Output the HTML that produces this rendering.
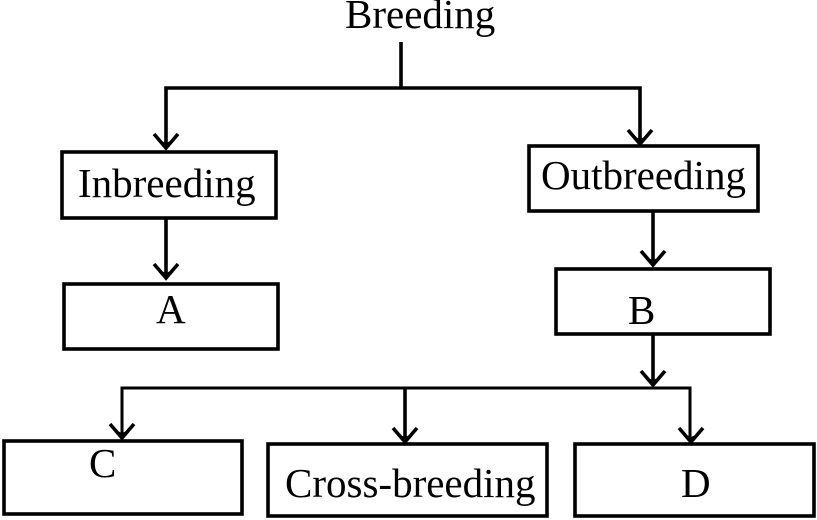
<!DOCTYPE html>
<html><head><meta charset="utf-8"><style>
html,body{margin:0;padding:0;background:#fff;}
svg{display:block;}
text{font-family:"Liberation Serif","Times New Roman",serif;font-size:41px;fill:#000;}
</style></head><body>
<svg width="817" height="520" viewBox="0 0 817 520" xmlns="http://www.w3.org/2000/svg">
<g fill="none" stroke="#000" stroke-width="3.6" stroke-linejoin="miter">
  <!-- Breeding connectors -->
  <polyline points="401,42 401,88"/>
  <polyline points="166,146 166,88 640,88 640,143"/>
  <!-- Inbreeding to A -->
  <polyline points="166,219 166,276"/>
  <!-- Outbreeding to B -->
  <polyline points="653,211 653,263"/>
  <!-- B down -->
  <polyline points="653,334 653,383"/>
  <!-- lower bus -->
  <polyline points="122,436 122,388 690,388 690,440" stroke-width="3"/>
  <polyline points="405,388 405,440"/>
  <!-- arrowheads -->
  <polyline points="154,134 166,148 178,134"/>
  <polyline points="628,130 640,144 652,130"/>
  <polyline points="154,264 166,278 178,264"/>
  <polyline points="641,251 653,265 665,251"/>
  <polyline points="641,371 653,385 665,371"/>
  <polyline points="110,424 122,438 134,424"/>
  <polyline points="393,428 405,442 417,428"/>
  <polyline points="679,428 691,442 703,428"/>
  <!-- boxes -->
  <rect x="62" y="152" width="214" height="66"/>
  <rect x="64" y="284" width="214" height="65"/>
  <rect x="529" y="146" width="229" height="65"/>
  <rect x="556" y="269" width="214" height="65"/>
  <rect x="4" y="441" width="238" height="73"/>
  <rect x="268" y="444" width="279" height="72"/>
  <rect x="575" y="444" width="239" height="72"/>
</g>
<g fill="#000" stroke="none">
  <polygon points="159,140 166,149 173,140 166,143"/>
  <polygon points="633,136 640,145 647,136 640,139"/>
  <polygon points="159,270 166,279 173,270 166,273"/>
  <polygon points="646,257 653,266 660,257 653,260"/>
  <polygon points="646,377 653,386 660,377 653,380"/>
  <polygon points="115,430 122,439 129,430 122,433"/>
  <polygon points="398,434 405,443 412,434 405,437"/>
  <polygon points="684,434 691,443 698,434 691,437"/>
</g>
<text x="345" y="28">Breeding</text>
<text x="78" y="197">Inbreeding</text>
<text x="541" y="189">Outbreeding</text>
<text x="156" y="323">A</text>
<text x="628" y="324">B</text>
<text x="89" y="477">C</text>
<text x="285" y="497">Cross-breeding</text>
<text x="681" y="497">D</text>
</svg>
</body></html>
